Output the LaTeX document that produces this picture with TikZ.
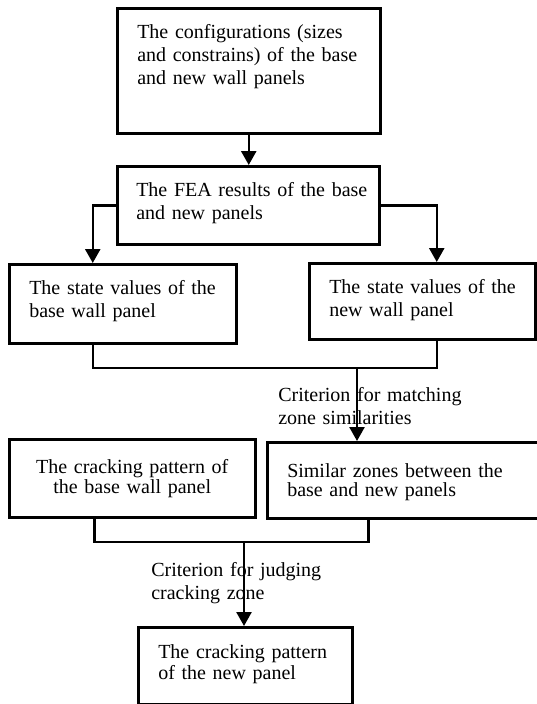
\documentclass[tikz,border=0pt]{standalone}
\usepackage{fontspec}
\setmainfont{Liberation Serif}
\usepackage{tikz}
\usetikzlibrary{arrows.meta}
\tikzset{box/.style={draw,line width=2.5pt,anchor=north west,align=left,
                     inner xsep=20pt,text height=14pt,
                     font=\fontsize{20}{23}\selectfont}}
\tikzset{note/.style={anchor=north west,align=left,inner sep=0pt,
                      text height=14pt,font=\fontsize{20}{23.5}\selectfont}}

\begin{document}
\begin{tikzpicture}[x=1pt,y=-1pt,line width=2.5pt]
    \tikzstyle{flow}=[-{Triangle[length=14pt,width=15pt]}]
    \useasboundingbox (0,0) rectangle (537,704);

    % Draw the input and FEA boxes
    \node[box,text width=223pt,inner ysep=16pt,text depth=79pt] (config) at (116,7)
        {The configurations (sizes\\ and constrains) of the base\\ and new wall panels};
    \node[box,text width=224pt,inner xsep=19pt,inner ysep=16pt,text depth=32pt] (fea) at (116,165)
        {\mbox{The FEA results of the base}\\ and new panels};

    % Draw the state value boxes
    \node[box,text width=187pt,inner ysep=16pt,text depth=33pt] (basestate) at (8,263)
        {\mbox{The state values of the}\\ base wall panel};
    \node[box,text width=186pt,inner ysep=16pt,text depth=30pt] (newstate) at (308,262)
        {\mbox{The state values of the}\\ new wall panel};

    % Draw the zone boxes
    \node[box,align=center,text width=206pt,inner ysep=20pt,text depth=24pt,
          font=\fontsize{20}{20}\selectfont] (crackbase) at (8,438)
        {The cracking pattern of\\ the base wall panel};
    \node[box,text width=236pt,inner ysep=21pt,text depth=20pt,
          font=\fontsize{20}{19}\selectfont] (similar) at (266,441)
        {Similar zones between the\\ base and new panels};

    % Draw the result box
    \node[box,text width=174pt,inner ysep=17pt,text depth=29pt,
          font=\fontsize{20}{21.5}\selectfont] (cracknew) at (137,626)
        {The cracking pattern\\ of the new panel};

    % Criteria written next to the arrows
    \node[note,text width=220pt] (crit1) at (277,386) {Criterion for matching\\ zone similarities};
    \node[note,text width=200pt] (crit2) at (150,561) {Criterion for judging\\ cracking zone};

    \coordinate (join1) at (357,368);
    \coordinate (join2) at (244,542);

    % Connect the boxes
    \draw[flow] (config.south) -- (config.south |- fea.north);
    \draw[flow] (fea.west) -| ([xshift=-30pt]basestate.north);
    \draw[flow] (fea.east) -| ([xshift=14.5pt]newstate.north);

    % Join the two state values and go on to the similar zones
    \draw ([xshift=-30pt]basestate.south) |- (join1) -| ([xshift=14.5pt]newstate.south);
    \draw[flow] (join1) -- (join1 |- similar.north);

    % Join the base pattern and the similar zones
    \draw ([xshift=-38pt]crackbase.south) |- (join2) -| ([xshift=-37pt]similar.south);
    \draw[flow] (join2) -- (join2 |- cracknew.north);
\end{tikzpicture}
\end{document}
